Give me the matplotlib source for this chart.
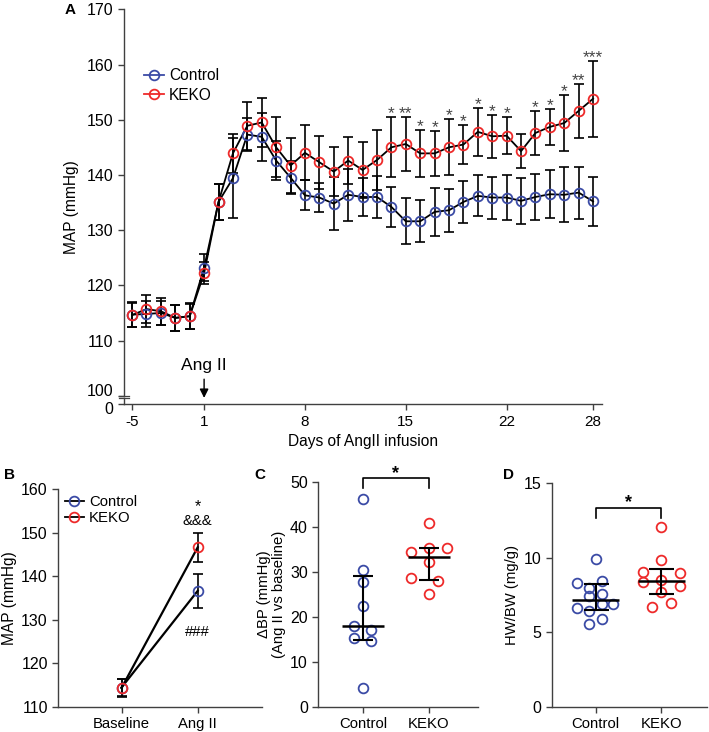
import numpy as np
import matplotlib
matplotlib.use("Agg")
import matplotlib.pyplot as plt
import matplotlib.transforms as mtransforms
from matplotlib.lines import Line2D

plt.rcParams['font.family'] = ['Liberation Sans', 'DejaVu Sans']
plt.rcParams['axes.linewidth'] = 1.0

blue = '#3b4ba6'
red = '#ee2a2a'
axcol = '#404040'

# ---- A: MAP time course ----
days = [-5, -4, -3, -2, -1] + list(range(1, 29))
ctrl_map = [114.7, 114.8, 115.0, 114.1, 114.4,
            123.2, 135.1, 139.4, 147.3, 146.9, 142.6, 139.5, 136.3, 135.9, 134.8,
            136.4, 136.0, 136.0, 134.2, 131.6, 131.6, 133.3, 133.6, 135.1, 136.2,
            135.9, 135.9, 135.3, 136.0, 136.5, 136.4, 136.8, 135.2]
ctrl_sem = [2.2, 2.3, 2.2, 2.3, 2.3,
            2.4, 3.3, 7.2, 3.0, 4.4, 3.6, 3.0, 2.7, 2.6, 4.8,
            4.7, 3.5, 3.8, 3.7, 4.2, 3.8, 4.3, 3.9, 3.8, 3.7,
            3.8, 4.1, 4.2, 4.1, 4.3, 5.0, 4.7, 4.5]
keko_map = [114.6, 115.7, 115.3, 114.1, 114.4,
            122.2, 135.1, 143.9, 148.9, 149.5, 145.0, 141.7, 144.0, 142.3, 140.6,
            142.6, 140.9, 142.7, 145.0, 145.6, 143.9, 143.9, 145.0, 145.5, 147.8,
            147.0, 147.1, 144.3, 147.6, 148.7, 149.4, 151.6, 153.8]
keko_sem = [2.2, 2.6, 2.4, 2.3, 2.4,
            2.0, 3.3, 3.6, 4.3, 4.4, 5.4, 4.9, 5.0, 4.8, 4.4,
            4.2, 5.0, 5.5, 5.4, 4.9, 4.3, 4.1, 5.1, 3.6, 4.4,
            3.9, 3.4, 3.1, 4.0, 3.3, 5.1, 4.9, 6.9]
keko_sig = [''] * 5 + [''] * 13 + ['*', '**', '*', '*', '*', '*', '*', '*', '*',
                                   '', '*', '*', '*', '**', '***']
tick_days = [-5, 1, 8, 15, 22, 28]

# ---- B: baseline vs Ang II ----
b_groups = ['Baseline', 'Ang II']
b_ctrl = [114.4, 136.6]
b_ctrl_sem = [2.0, 3.9]
b_keko = [114.3, 146.6]
b_keko_sem = [2.0, 3.3]

# ---- C: delta BP ----
c_ctrl = [46.2, 30.5, 27.7, 22.4, 18.0, 17.1, 15.2, 14.6, 4.2]
c_ctrl_dx = [0, 0, 0, 0, -0.13, 0.13, -0.13, 0.13, 0]
c_keko = [41.0, 35.4, 35.4, 34.4, 32.3, 28.7, 28.0, 25.0]
c_keko_dx = [0, 0, 0.28, -0.27, 0, -0.27, 0.14, 0]

# ---- D: HW/BW ----
d_ctrl = [9.9, 8.29, 8.44, 7.99, 7.46, 7.57, 6.65, 6.92, 6.88, 6.43, 5.89, 5.53]
d_ctrl_dx = [0, -0.28, 0.09, -0.10, -0.10, 0.09, -0.28, 0.09, 0.27, -0.10, 0.09, -0.10]
d_keko = [12.05, 9.85, 9.03, 8.39, 8.51, 9.0, 8.13, 7.73, 6.72, 6.96]
d_keko_dx = [0, 0, -0.28, -0.28, 0, 0.28, 0.28, 0, -0.14, 0.14]


def style(ax):
    for s in ['top', 'right']:
        ax.spines[s].set_visible(False)
    for s in ['left', 'bottom']:
        ax.spines[s].set_color(axcol)
    ax.tick_params(direction='out', length=4, width=1, color=axcol)


fig = plt.figure(figsize=(7.09, 7.32), dpi=100)

# ================= A =================
axA = fig.add_axes([0.1749, 0.4477, 0.6738, 0.5396])
style(axA)
pos = np.arange(len(days))
ebkw = dict(fmt='none', ecolor='black', elinewidth=1.2, capsize=3.5, capthick=1.2)
axA.errorbar(pos, ctrl_map, yerr=ctrl_sem, zorder=2, **ebkw)
axA.errorbar(pos, keko_map, yerr=keko_sem, zorder=2, **ebkw)
axA.plot(pos, ctrl_map, color='black', lw=1.3, zorder=3)
axA.plot(pos, keko_map, color='black', lw=1.3, zorder=3)
axA.plot(pos, ctrl_map, 'o', mfc='none', mec=blue, ms=7, mew=1.3, zorder=4)
axA.plot(pos, keko_map, 'o', mfc='none', mec=red, ms=7, mew=1.3, zorder=5)

for i, s in enumerate(keko_sig):
    if s:
        axA.text(pos[i], keko_map[i] + keko_sem[i] - 0.2, s, ha='center', va='baseline',
                 fontsize=12.5, color='#444444')

axA.set_xlim(-0.56, 32.6)
axA.set_ylim(98.45, 170)
axA.set_xticks([days.index(d) for d in tick_days])
axA.set_xticklabels([str(d) for d in tick_days])
axA.set_yticks([98.45, 100, 110, 120, 130, 140, 150, 160, 170])
axA.set_yticklabels(['0', '100', '110', '120', '130', '140', '150', '160', '170'])
axA.tick_params(axis='y', labelsize=11.5)
axA.tick_params(axis='x', labelsize=11)
axA.set_xlabel('Days of AngII infusion', fontsize=11.2, labelpad=4)
axA.set_ylabel('MAP (mmHg)', fontsize=11.2, labelpad=6)

# nudge the stacked "100" / "0" labels apart a little
ylabs = axA.get_yticklabels()
ylabs[0].set_transform(ylabs[0].get_transform() +
                       mtransforms.ScaledTranslation(0, -3 / 72, fig.dpi_scale_trans))
ylabs[1].set_transform(ylabs[1].get_transform() +
                       mtransforms.ScaledTranslation(0, 4 / 72, fig.dpi_scale_trans))

# axis break on y
axA.spines['left'].set_bounds(100.0, 170)
yt = axA.get_yaxis_transform()
axA.plot([0, 0], [98.45, 99.55], color=axcol, lw=1, transform=yt, clip_on=False)
for yb in [99.95, 99.55]:
    axA.plot([-0.011, 0.011], [yb, yb], color=axcol, lw=0.9, transform=yt, clip_on=False)

# Ang II arrow
i1 = days.index(1)
axA.text(pos[i1], 105.4, 'Ang II', ha='center', va='center', fontsize=12.5)
axA.annotate('', xy=(pos[i1], 99.1), xytext=(pos[i1], 103.5),
             arrowprops=dict(arrowstyle='-|>', color='black', lw=1.0, mutation_scale=13))

hA = [Line2D([], [], color=blue, marker='o', mfc='none', mec=blue, ms=7, mew=1.3, lw=1.3),
      Line2D([], [], color=red, marker='o', mfc='none', mec=red, ms=7, mew=1.3, lw=1.3)]
axA.legend(hA, ['Control', 'KEKO'], loc='upper left', bbox_to_anchor=(0.029, 0.867),
           frameon=False, fontsize=11.2, handlelength=1.25, handletextpad=0.35,
           labelspacing=0.3, borderaxespad=0)

fig.text(0.099, 0.986, 'A', fontsize=11, fontweight='bold', ha='center', va='center')

# ================= B =================
axB = fig.add_axes([0.0822, 0.0346, 0.2869, 0.2974])
style(axB)
xb = np.arange(len(b_groups))
axB.errorbar(xb, b_ctrl, yerr=b_ctrl_sem, zorder=2, **ebkw)
axB.errorbar(xb, b_keko, yerr=b_keko_sem, zorder=2, **ebkw)
axB.plot(xb, b_ctrl, color='black', lw=1.6, zorder=3)
axB.plot(xb, b_keko, color='black', lw=1.6, zorder=3)
axB.plot(xb, b_ctrl, 'o', mfc='none', mec=blue, ms=7, mew=1.3, zorder=4)
axB.plot(xb, b_keko, 'o', mfc='none', mec=red, ms=7, mew=1.3, zorder=5)
axB.text(1, 154.8, '*', ha='center', va='baseline', fontsize=11.5)
axB.text(1, 151.7, '&&&', ha='center', va='baseline', fontsize=10.7)
axB.text(1, 126.3, '###', ha='center', va='baseline', fontsize=10.7)
axB.set_xlim(-0.83, 1.84)
axB.set_ylim(110, 160)
axB.set_yticks([110, 120, 130, 140, 150, 160])
axB.set_xticks(xb)
axB.set_xticklabels(b_groups)
axB.tick_params(axis='y', labelsize=11.5)
axB.tick_params(axis='x', labelsize=10.7)
axB.set_ylabel('MAP (mmHg)', fontsize=11.2, labelpad=3)
hB = [Line2D([], [], color='black', marker='o', mfc='none', mec=blue, ms=7, mew=1.3, lw=1.3),
      Line2D([], [], color='black', marker='o', mfc='none', mec=red, ms=7, mew=1.3, lw=1.3)]
axB.legend(hB, ['Control', 'KEKO'], loc='upper left', bbox_to_anchor=(0.004, 1.0),
           frameon=False, fontsize=10.7, handlelength=1.25, handletextpad=0.35,
           labelspacing=0.12, borderaxespad=0)
fig.text(0.014, 0.351, 'B', fontsize=11, fontweight='bold', ha='center', va='center')


def dotplot(ax, groups, dxs, med_half, cap_pt):
    for k, (vals, dx, col) in enumerate(zip(groups, dxs, [blue, red])):
        vals = np.array(vals)
        ax.plot(k + np.array(dx), vals, 'o', mfc='none', mec=col, ms=7, mew=1.3,
                zorder=3, clip_on=False)
        med = np.median(vals)
        q1, q3 = np.percentile(vals, [25, 75], method='weibull')
        ax.errorbar([k], [med], yerr=[[med - q1], [q3 - med]], fmt='none', ecolor='black',
                    elinewidth=1.5, capsize=cap_pt, capthick=1.5, zorder=4)
        ax.hlines(med, k - med_half, k + med_half, color='black', lw=1.8, zorder=4)


def bracket(ax, top, leg, fs):
    ax.plot([0, 0, 1, 1], [leg, top, top, leg], color='black', lw=1.2, clip_on=False)
    ax.text(0.5, top, '*', ha='center', va='baseline', fontsize=fs, fontweight='bold')


# ================= C =================
axC = fig.add_axes([0.4489, 0.0346, 0.2252, 0.3066])
style(axC)
dotplot(axC, [c_ctrl, c_keko], [c_ctrl_dx, c_keko_dx], 0.32, 7.5)
bracket(axC, 51.0, 48.7, 13)
axC.set_xlim(-0.68, 1.75)
axC.set_ylim(0, 50)
axC.set_yticks([0, 10, 20, 30, 40, 50])
axC.set_xticks([0, 1])
axC.set_xticklabels(['Control', 'KEKO'])
axC.tick_params(axis='y', labelsize=11.5)
axC.tick_params(axis='x', labelsize=10.7)
axC.set_ylabel('ΔBP (mmHg)\n(Ang II vs baseline)', fontsize=10.7, labelpad=3, linespacing=1.1)
fig.text(0.367, 0.351, 'C', fontsize=11, fontweight='bold', ha='center', va='center')

# ================= D =================
axD = fig.add_axes([0.7781, 0.0346, 0.2186, 0.3052])
style(axD)
dotplot(axD, [d_ctrl, d_keko], [d_ctrl_dx, d_keko_dx], 0.36, 9)
bracket(axD, 13.37, 12.65, 13)
axD.set_xlim(-0.67, 1.69)
axD.set_ylim(0, 15)
axD.set_yticks([0, 5, 10, 15])
axD.set_xticks([0, 1])
axD.set_xticklabels(['Control', 'KEKO'])
axD.tick_params(axis='y', labelsize=11.5)
axD.tick_params(axis='x', labelsize=10.7)
axD.set_ylabel('HW/BW (mg/g)', fontsize=10.7, labelpad=3)
fig.text(0.717, 0.351, 'D', fontsize=11, fontweight='bold', ha='center', va='center')

fig.savefig('out.png', dpi=100)
